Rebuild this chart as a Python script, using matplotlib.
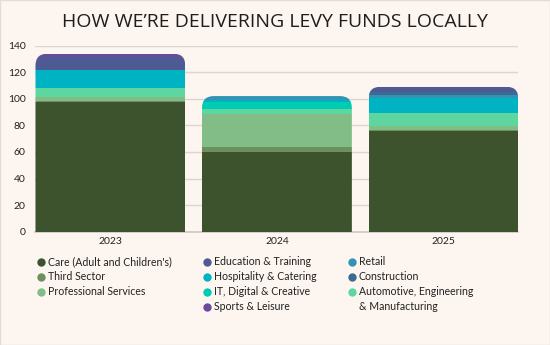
import matplotlib
matplotlib.use("Agg")
import matplotlib.pyplot as plt
import numpy as np
from matplotlib.lines import Line2D
from matplotlib.patches import FancyBboxPatch, Rectangle

# Data
years = ["2023", "2024", "2025"]
care = [97.3, 60.0, 76.0]
third_sector = [1.2, 4.0, 0.8]
professional = [3.1, 24.6, 3.0]
automotive = [6.3, 3.7, 9.3]
it_digital = [0.5, 5.5, 0.5]
hospitality = [13.3, 1.5, 10.8]
retail = [0.0, 2.8, 2.5]
construction = [0.0, 0.0, 2.5]
education = [9.8, 0.0, 3.7]
sports = [2.5, 0.0, 0.0]

# stacking order, bottom to top
stack = [
    ("Care (Adult and Children's)", care, "#3c532d"),
    ("Third Sector", third_sector, "#6e8f5e"),
    ("Professional Services", professional, "#82bd87"),
    ("Automotive, Engineering", automotive, "#5ed6a0"),
    ("IT, Digital & Creative", it_digital, "#00ccb4"),
    ("Hospitality & Catering", hospitality, "#00b3c2"),
    ("Retail", retail, "#3194b4"),
    ("Construction", construction, "#3d6a93"),
    ("Education & Training", education, "#4e5a93"),
    ("Sports & Leisure", sports, "#6a4a9a"),
]
colors = {name: c for name, _, c in stack}

legend_cols = [
    ["Care (Adult and Children's)", "Third Sector", "Professional Services"],
    ["Education & Training", "Hospitality & Catering", "IT, Digital & Creative",
     "Sports & Leisure"],
    ["Retail", "Construction", "Automotive, Engineering", "& Manufacturing"],
]

bg = "#fdf5ef"
text_color = "#222222"
plt.rcParams["font.family"] = ["Lato", "DejaVu Sans"]

fig = plt.figure(figsize=(5.5, 3.45), dpi=100, facecolor=bg)
ax = fig.add_axes([0.0645, 0.3284, 0.878, 0.5391])
ax.set_facecolor(bg)

x = np.arange(len(years))
width = 0.9
ax.set_xlim(-0.45, 2.45)
ax.set_ylim(0, 140)

# aspect correction so that the rounded corners are circular on screen
fig.canvas.draw()
bb = ax.get_window_extent()
x_per_px = 2.9 / bb.width
y_per_px = 140 / bb.height
aspect = y_per_px / x_per_px
radius = 12 * x_per_px

totals = np.zeros(len(years))
for _, vals, _ in stack:
    totals += np.array(vals)

clips = []
for i in range(len(years)):
    clip = FancyBboxPatch((x[i] - width / 2, -20), width, totals[i] + 20,
                          boxstyle=f"round,pad=0,rounding_size={radius}",
                          mutation_aspect=aspect, transform=ax.transData,
                          facecolor="none", edgecolor="none")
    ax.add_patch(clip)
    clips.append(clip)

bottom = np.zeros(len(years))
for name, vals, color in stack:
    bars = ax.bar(x, vals, width, bottom=bottom, color=color, linewidth=0, zorder=3)
    for i, b in enumerate(bars):
        b.set_clip_path(clips[i])
    bottom += np.array(vals)

ax.set_yticks(np.arange(0, 141, 20))
ax.grid(axis="y", color="#ddd5cf", linewidth=1.0, zorder=0)
ax.set_axisbelow(True)
for s in ["top", "right", "left"]:
    ax.spines[s].set_visible(False)
ax.spines["bottom"].set_color("#cfc7c1")
ax.spines["bottom"].set_linewidth(1.2)
ax.set_xticks(x)
ax.set_xticklabels(years)
ax.tick_params(axis="both", length=0, labelsize=7.5, colors=text_color)
ax.tick_params(axis="x", pad=4)
ax.tick_params(axis="y", pad=7)

fig.text(0.5, 0.937, "HOW WE\u2019RE DELIVERING LEVY FUNDS LOCALLY",
         ha="center", va="center", fontsize=14, color="#1e1e1e",
         family=["Open Sans", "DejaVu Sans"])

# legend, three columns
col_x = [0.0645, 0.3665, 0.6305]
for cx, names in zip(col_x, legend_cols):
    handles = []
    for n in names:
        if n in colors:
            handles.append(Line2D([], [], marker="o", linestyle="none", markersize=6,
                                  markerfacecolor=colors[n], markeredgewidth=0))
        else:
            # continuation line of a wrapped label
            handles.append(Line2D([], [], linestyle="none", marker="none"))
    leg = fig.legend(handles, names, loc="upper left", bbox_to_anchor=(cx, 0.257),
                     frameon=False, fontsize=7.6, handletextpad=0.15,
                     handlelength=1.0, labelspacing=0.38, borderaxespad=0,
                     borderpad=0)
    for t in leg.get_texts():
        t.set_color(text_color)

fig.patches.append(Rectangle((0, 0), 1, 1, transform=fig.transFigure,
                             fill=False, edgecolor="#e0dcd8", linewidth=1.0))

fig.savefig("out.png", dpi=100, facecolor=bg)
